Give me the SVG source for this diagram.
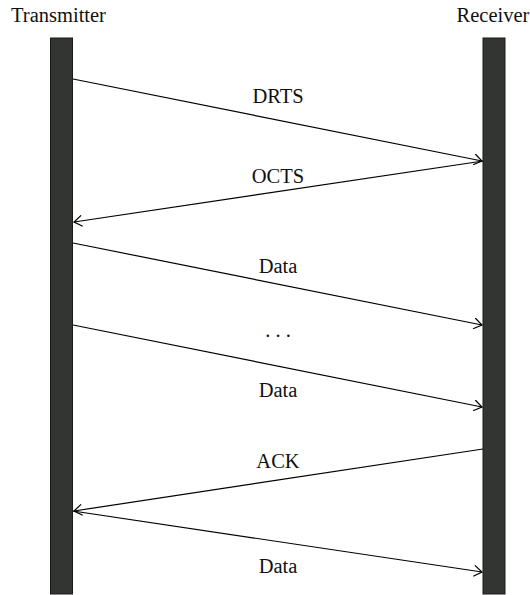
<svg xmlns="http://www.w3.org/2000/svg" width="530" height="595" viewBox="0 0 530 595">
<style>
text{font-family:"Liberation Serif","DejaVu Serif",serif;font-size:20.5px;fill:#111;}
.bar{fill:#333533;stroke:#1a1a1a;stroke-width:1;}
.msg{stroke:#000;stroke-width:1.2;fill:none;marker-end:url(#arr);}
</style>
<defs>
<marker id="arr" markerWidth="12" markerHeight="12" refX="10" refY="6" orient="auto" markerUnits="userSpaceOnUse">
<path d="M2,0.5 L10,6 L2,11.5" fill="none" stroke="#000" stroke-width="1.2"/>
</marker>
</defs>
<rect width="530" height="595" fill="#fff"/>
<g id="transmitter">
<text x="58.5" y="22" text-anchor="middle">Transmitter</text>
<rect class="bar" x="50.5" y="38" width="22" height="556"/>
</g>
<g id="receiver">
<text x="493" y="22" text-anchor="middle">Receiver</text>
<rect class="bar" x="483" y="38" width="22" height="556"/>
</g>
<g id="connectors">
<line class="msg" x1="73" y1="79" x2="482" y2="161"/>
<line class="msg" x1="483" y1="161" x2="74" y2="222"/>
<line class="msg" x1="73" y1="243" x2="482" y2="325"/>
<line class="msg" x1="73" y1="325" x2="482" y2="407"/>
<line class="msg" x1="483" y1="449" x2="74" y2="511"/>
<line class="msg" x1="73" y1="511" x2="482" y2="572"/>
<text x="278" y="103" text-anchor="middle">DRTS</text>
<text x="278" y="183" text-anchor="middle">OCTS</text>
<text x="278" y="273" text-anchor="middle">Data</text>
<text x="278" y="337" text-anchor="middle">. . .</text>
<text x="278" y="397" text-anchor="middle">Data</text>
<text x="278" y="468" text-anchor="middle">ACK</text>
<text x="278" y="573" text-anchor="middle">Data</text>
</g>
</svg>
